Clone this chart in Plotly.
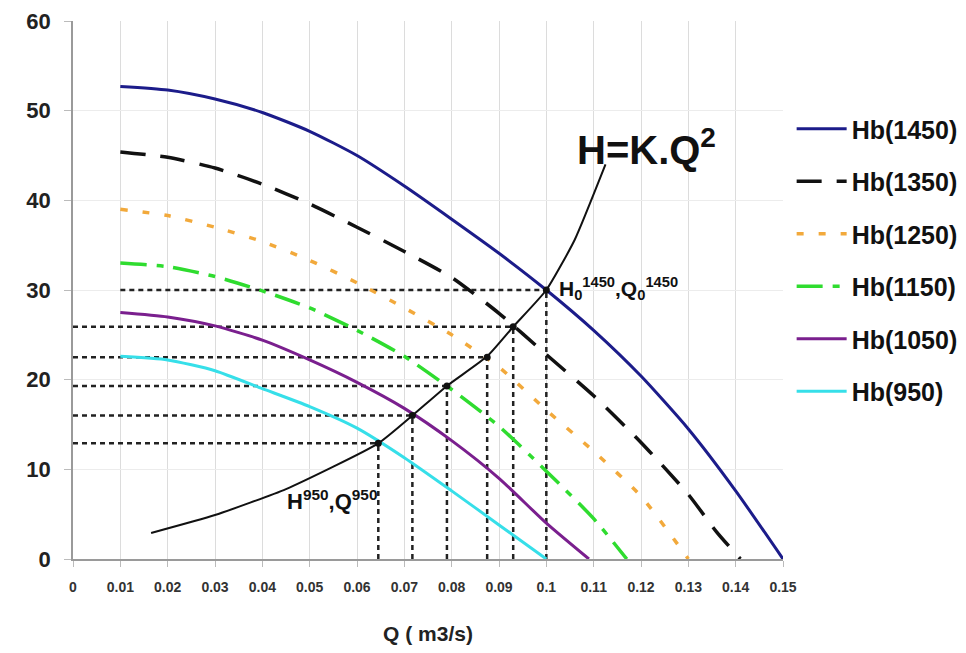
import plotly.graph_objects as go

# ---------------- data ----------------
q_1450 = [0.01, 0.02, 0.03, 0.04, 0.05, 0.06, 0.07, 0.08, 0.09, 0.10, 0.11, 0.12, 0.13, 0.14, 0.15]
h_1450 = [52.7, 52.3, 51.3, 49.8, 47.7, 45.0, 41.6, 37.9, 34.1, 30.0, 25.5, 20.4, 14.5, 7.6, 0.0]

q_1350 = [0.01, 0.02, 0.03, 0.04, 0.05, 0.06, 0.07, 0.08, 0.09, 0.10, 0.11, 0.12, 0.13, 0.136, 0.141]
h_1350 = [45.4, 44.8, 43.6, 41.8, 39.6, 37.0, 34.3, 31.4, 27.4, 22.8, 18.2, 13.0, 7.2, 3.0, 0.0]

q_1250 = [0.01, 0.02, 0.03, 0.04, 0.05, 0.06, 0.07, 0.08, 0.09, 0.10, 0.11, 0.12, 0.13]
h_1250 = [39.0, 38.3, 37.0, 35.4, 33.3, 30.8, 28.0, 25.0, 21.4, 16.6, 12.0, 7.0, 0.0]

q_1150 = [0.01, 0.02, 0.03, 0.04, 0.05, 0.06, 0.07, 0.08, 0.09, 0.10, 0.11, 0.117]
h_1150 = [33.0, 32.6, 31.5, 29.9, 28.0, 25.5, 22.6, 18.9, 14.8, 9.8, 4.5, 0.0]

q_1050 = [0.01, 0.02, 0.03, 0.04, 0.05, 0.06, 0.07, 0.08, 0.09, 0.10, 0.109]
h_1050 = [27.5, 27.0, 26.0, 24.4, 22.2, 19.7, 16.8, 13.2, 9.0, 4.0, 0.0]

q_950 = [0.01, 0.02, 0.03, 0.04, 0.05, 0.06, 0.07, 0.08, 0.09, 0.10]
h_950 = [22.6, 22.2, 21.0, 19.0, 17.0, 14.6, 11.3, 7.6, 3.8, 0.0]

# system curve H = K.Q^2
q_sys = [0.0165, 0.03, 0.045, 0.0645, 0.0717, 0.079, 0.0875, 0.093, 0.10, 0.106, 0.1125]
h_sys = [2.9, 4.9, 7.8, 12.9, 16.0, 19.3, 22.6, 25.9, 30.0, 35.6, 44.0]

# operating points (950 ... 1450)
q_op = [0.0645, 0.0717, 0.079, 0.0875, 0.093, 0.10]
h_op = [12.9, 16.0, 19.3, 22.5, 25.9, 30.0]
q_guide_start = [0.0, 0.0, 0.0, 0.0, 0.0, 0.01]

series_names = ["Hb(1450)", "Hb(1350)", "Hb(1250)", "Hb(1150)", "Hb(1050)", "Hb(950)"]
x_ticks = [round(i * 0.01, 2) for i in range(16)]
x_tick_text = ["0", "0.01", "0.02", "0.03", "0.04", "0.05", "0.06", "0.07", "0.08",
               "0.09", "0.1", "0.11", "0.12", "0.13", "0.14", "0.15"]
y_ticks = [0, 10, 20, 30, 40, 50, 60]

# ---------------- styles ----------------
styles = [
    dict(color="#1c1c8a", width=3, dash="solid"),
    dict(color="#111111", width=3.5, dash="25px,15px"),
    dict(color="#f2a93b", width=3.5, dash="7px,15px"),
    dict(color="#2fdc2f", width=3.5, dash="26px,10px,7px,10px"),
    dict(color="#7a1f8e", width=3, dash="solid"),
    dict(color="#36dfe9", width=3, dash="solid"),
]
curves = [(q_1450, h_1450), (q_1350, h_1350), (q_1250, h_1250),
          (q_1150, h_1150), (q_1050, h_1050), (q_950, h_950)]

FONT = "Liberation Sans, Arial, sans-serif"

fig = go.Figure()

# guide dashed lines
for qs, q, h in zip(q_guide_start, q_op, h_op):
    fig.add_trace(go.Scatter(x=[qs, q], y=[h, h], mode="lines", showlegend=False,
                             line=dict(color="#222222", width=2.5, dash="5px,4px"),
                             hoverinfo="skip"))
    fig.add_trace(go.Scatter(x=[q, q], y=[0, h], mode="lines", showlegend=False,
                             line=dict(color="#222222", width=2.5, dash="5px,4px"),
                             hoverinfo="skip"))

for i, ((q, h), name, st) in enumerate(zip(curves, series_names, styles)):
    fig.add_trace(go.Scatter(x=q, y=h, mode="lines", name=name, legendgroup=f"g{i}",
                             line=dict(color=st["color"], width=st["width"], dash=st["dash"],
                                       shape="spline", smoothing=0.6)))

fig.add_trace(go.Scatter(x=q_sys, y=h_sys, mode="lines", showlegend=False,
                         line=dict(color="#111111", width=2, shape="spline", smoothing=0.5)))
fig.add_trace(go.Scatter(x=q_op, y=h_op, mode="markers", showlegend=False,
                         marker=dict(color="#111111", size=7)))

fig.add_annotation(x=0.1212, y=46.0, xref="x", yref="y", text="<b>H=K.Q<sup>2</sup></b>",
                   showarrow=False, xanchor="center", yanchor="middle",
                   font=dict(family=FONT, size=40, color="#111111"))
fig.add_annotation(x=0.1022, y=30.2, xref="x", yref="y",
                   text="<b>H<sub>0</sub><sup>1450</sup>,Q<sub>0</sub><sup>1450</sup></b>",
                   showarrow=False, xanchor="left", yanchor="middle",
                   font=dict(family=FONT, size=21, color="#111111"))
fig.add_annotation(x=0.0447, y=6.6, xref="x", yref="y",
                   text="<b>H<sup>950</sup>,Q<sup>950</sup></b>",
                   showarrow=False, xanchor="left", yanchor="middle",
                   font=dict(family=FONT, size=22, color="#111111"))

# the page body has an 8px default margin, so the figure is drawn 8px smaller
fig.update_layout(
    width=958, height=645,
    margin=dict(l=65, r=183, t=13, b=94),
    paper_bgcolor="white", plot_bgcolor="white",
    font=dict(family=FONT, color="#222222"),
    legend=dict(xref="container", yref="container", x=0.818, y=0.848,
                xanchor="left", yanchor="top",
                font=dict(family=FONT, size=25, color="#111111", weight="bold"),
                tracegroupgap=17, itemwidth=50, traceorder="grouped",
                bgcolor="rgba(0,0,0,0)"),
    xaxis=dict(range=[0, 0.15], tickvals=x_ticks, ticktext=x_tick_text,
               showgrid=True, gridcolor="#dcdcdc", gridwidth=1,
               showline=True, linecolor="#9a9a9a", linewidth=1.5,
               ticks="outside", ticklen=6, tickcolor="#bbbbbb",
               ticklabelstandoff=8, automargin=False,
               tickfont=dict(family=FONT, size=14, color="#333333", weight="bold"),
               title=dict(text="<b>Q ( m3/s)</b>", font=dict(family=FONT, size=21, color="#222222"),
                          standoff=33),
               zeroline=False),
    yaxis=dict(range=[0, 60], tickvals=y_ticks,
               showgrid=True, gridcolor="#ececec", gridwidth=1,
               showline=True, linecolor="#9a9a9a", linewidth=1.5,
               ticks="outside", ticklen=7, tickcolor="#bbbbbb",
               ticklabelstandoff=9, automargin=False,
               tickfont=dict(family=FONT, size=22, color="#222222", weight="bold"),
               zeroline=False),
)

fig.write_html("out.html")
